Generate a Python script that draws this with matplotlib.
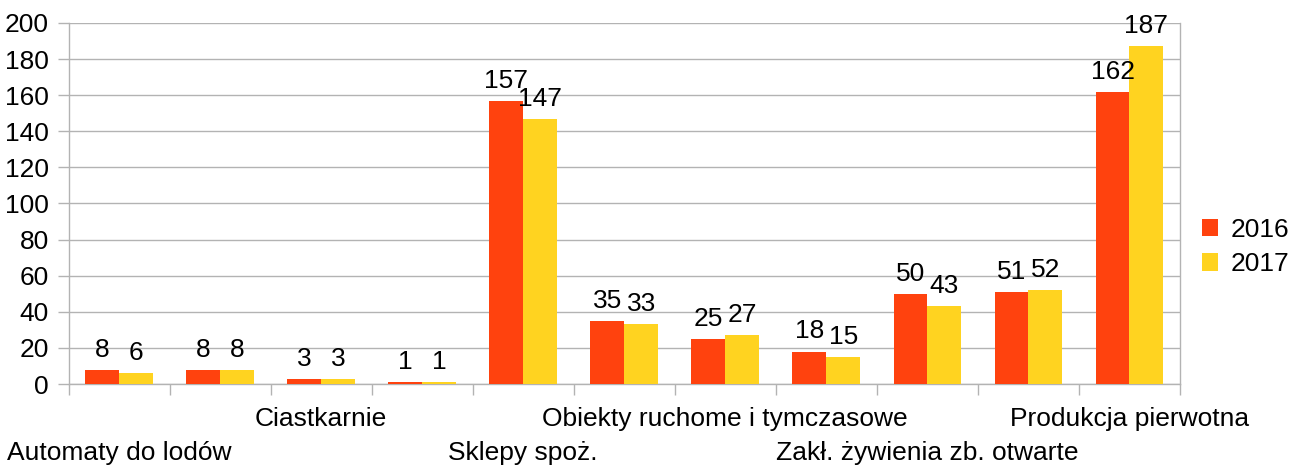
import matplotlib
matplotlib.use("Agg")
import matplotlib.pyplot as plt
import matplotlib.transforms as mtransforms
import numpy as np

plt.rcParams['font.family'] = ['Liberation Sans', 'DejaVu Sans']

categories = ["Automaty do lodów", "", "Ciastkarnie", "", "Sklepy spoż.", "",
              "Obiekty ruchome i tymczasowe", "", "Zakł. żywienia zb. otwarte", "",
              "Produkcja pierwotna"]
series_names = ["2016", "2017"]
values_2016 = [8, 8, 3, 1, 157, 35, 25, 18, 50, 51, 162]
values_2017 = [6, 8, 3, 1, 147, 33, 27, 15, 43, 52, 187]
y_ticks = [0, 20, 40, 60, 80, 100, 120, 140, 160, 180, 200]

colors = ["#FF420E", "#FFD320"]
grid_color = "#b3b3b3"
FS = 19

fig = plt.figure(figsize=(12.95, 4.65), dpi=100)
ax = fig.add_axes([68.5 / 1295, 81 / 465, (1180 - 68.5) / 1295, (384 - 23) / 465])

x = np.arange(len(categories))
w = 0.335
b1 = ax.bar(x - w / 2, values_2016, w, color=colors[0], label=series_names[0], zorder=3)
b2 = ax.bar(x + w / 2, values_2017, w, color=colors[1], label=series_names[1], zorder=3)

for bars, vals in ((b1, values_2016), (b2, values_2017)):
    for rect, v in zip(bars, vals):
        ax.annotate(str(v), (rect.get_x() + rect.get_width() / 2, v),
                    xytext=(0, 9.4), textcoords="offset points",
                    ha="center", va="baseline", fontsize=FS, color="black", zorder=4)

ax.set_xlim(-0.5, len(categories) - 0.5)
ax.set_ylim(0, 200)
ax.set_yticks(y_ticks)
ax.tick_params(axis="y", length=8, width=1, color=grid_color, labelsize=FS, pad=6)
ax.yaxis.grid(True, color=grid_color, linewidth=1, zorder=0)

# x tick marks at category boundaries
ax.set_xticks(np.arange(-0.5, len(categories)), minor=True)
ax.set_xticks([])
ax.tick_params(axis="x", which="minor", length=8, width=1, color=grid_color, direction="out")

trans = mtransforms.blended_transform_factory(ax.transData, ax.transAxes)
for i, name in enumerate(categories):
    if not name:
        continue
    off_px = -35 if i % 4 == 2 else -69
    ax.annotate(name, (i, 0), xycoords=trans, xytext=(0, off_px * 0.72),
                textcoords="offset points", ha="center", va="center",
                fontsize=FS, annotation_clip=False)

ax.spines["top"].set_visible(False)
for s in ["left", "right", "bottom"]:
    ax.spines[s].set_color(grid_color)
    ax.spines[s].set_linewidth(1)

fig.legend(handles=[b1, b2], labels=series_names, loc="center left",
           bbox_to_anchor=(1202 / 1295, (465 - 247) / 465), frameon=False,
           fontsize=FS, handlelength=0.62, handleheight=0.62, handletextpad=0.45,
           labelspacing=0.4, borderaxespad=0, borderpad=0)

fig.savefig("out.png", dpi=100)
